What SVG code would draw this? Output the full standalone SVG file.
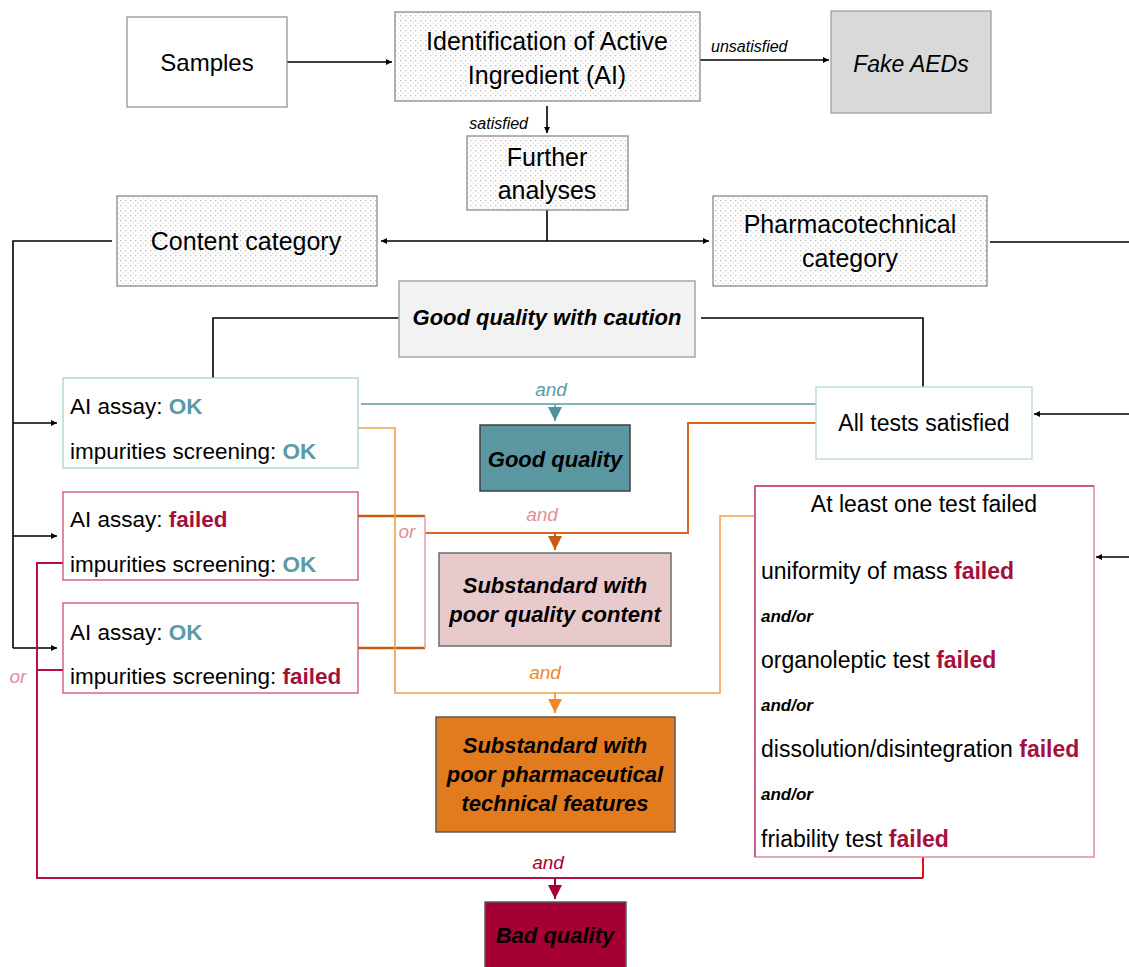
<svg xmlns="http://www.w3.org/2000/svg" width="1129" height="967" viewBox="0 0 1129 967">
<defs>
<pattern id="dots" width="5" height="5" patternUnits="userSpaceOnUse">
<rect width="5" height="5" fill="#ffffff"/>
<rect x="0" y="0" width="1.3" height="1.3" fill="#bdbdbd"/>
<rect x="2.5" y="2.5" width="1.3" height="1.3" fill="#dadada"/>
</pattern>
<marker id="ak" viewBox="0 0 10 10" refX="10" refY="5" markerWidth="7" markerHeight="6" markerUnits="userSpaceOnUse" orient="auto"><path d="M0,0 L10,5 L0,10 z" fill="#000"/></marker>
<marker id="at" viewBox="0 0 10 10" refX="10" refY="5" markerWidth="14" markerHeight="14" markerUnits="userSpaceOnUse" orient="auto"><path d="M0,0 L10,5 L0,10 z" fill="#4f929d"/></marker>
<marker id="ao" viewBox="0 0 10 10" refX="10" refY="5" markerWidth="14" markerHeight="14" markerUnits="userSpaceOnUse" orient="auto"><path d="M0,0 L10,5 L0,10 z" fill="#c55a11"/></marker>
<marker id="al" viewBox="0 0 10 10" refX="10" refY="5" markerWidth="14" markerHeight="14" markerUnits="userSpaceOnUse" orient="auto"><path d="M0,0 L10,5 L0,10 z" fill="#ed8a2a"/></marker>
<marker id="ac" viewBox="0 0 10 10" refX="10" refY="5" markerWidth="14" markerHeight="14" markerUnits="userSpaceOnUse" orient="auto"><path d="M0,0 L10,5 L0,10 z" fill="#a50034"/></marker>
</defs>
<style>
text{font-family:"Liberation Sans",Arial,sans-serif;fill:#000}
.t25{font-size:25px}
.t24{font-size:24px}
.t22{font-size:22.5px}
.t23{font-size:23px}
.bi{font-size:22px;font-weight:bold;font-style:italic}
.lab{font-size:19px;font-style:italic}
.small{font-size:16px;font-style:italic}
.ao{font-size:17px;font-weight:bold;font-style:italic}
.ok{fill:#5b9ba5;font-weight:bold}
.fail{fill:#a50f3c;font-weight:bold}
.dot{fill:url(#dots);stroke:#808080;stroke-width:1.2}
.blk{fill:none;stroke:#000;stroke-width:1.6}
.c{text-anchor:middle}
</style>
<rect width="1129" height="967" fill="#ffffff"/>

<g id="connectors">
<path class="blk" d="M287,62 H392" marker-end="url(#ak)"/>
<path class="blk" d="M700,60 H829" marker-end="url(#ak)"/>
<path class="blk" d="M547,106 V133" marker-end="url(#ak)"/>
<path class="blk" d="M547,210 V241"/>
<path class="blk" d="M547,241 H381" marker-end="url(#ak)"/>
<path class="blk" d="M547,241 H709" marker-end="url(#ak)"/>
<path class="blk" d="M112,241 H13 V648"/>
<path class="blk" d="M13,423 H57" marker-end="url(#ak)"/>
<path class="blk" d="M13,536 H57" marker-end="url(#ak)"/>
<path class="blk" d="M13,648 H57" marker-end="url(#ak)"/>
<path class="blk" d="M990,242 H1129"/>
<path class="blk" d="M1129,414 H1034" marker-end="url(#ak)"/>
<path class="blk" d="M1129,557 H1096" marker-end="url(#ak)"/>
<path class="blk" d="M399,318 H213 V378"/>
<path class="blk" d="M701,318 H923 V387"/>

<path d="M361,404 H816" fill="none" stroke="#5b9ba5" stroke-width="1.6"/>
<path d="M555,404 V421" fill="none" stroke="#5b9ba5" stroke-width="1.6" marker-end="url(#at)"/>

<path d="M816,423 H688 V533 H425" fill="none" stroke="#d2691e" stroke-width="2"/>
<path d="M555,533 V550" fill="none" stroke="#c55a11" stroke-width="2" marker-end="url(#ao)"/>
<path d="M358,516 H425 M358,648 H425" fill="none" stroke="#c55a11" stroke-width="2.4"/>
<path d="M425,516 V648" fill="none" stroke="#e6a3ad" stroke-width="1.6"/>

<path d="M358,428 H395 V693 H720 V516 H755" fill="none" stroke="#f0a04b" stroke-width="1.6"/>
<path d="M555,693 V713" fill="none" stroke="#ed8a2a" stroke-width="1.6" marker-end="url(#al)"/>

<path d="M63,563 H37 V878 H923" fill="none" stroke="#b5103f" stroke-width="2"/>
<path d="M63,670 H37" fill="none" stroke="#b5103f" stroke-width="2"/>
<path d="M923,878 V857" fill="none" stroke="#e8101a" stroke-width="2"/>
<path d="M555,878 V899" fill="none" stroke="#a50034" stroke-width="2" marker-end="url(#ac)"/>

<text class="small" x="711" y="52">unsatisfied</text>
<text class="small" x="528" y="129" text-anchor="end">satisfied</text>
<text class="lab c" x="551" y="396" style="fill:#5b9ba5">and</text>
<text class="lab c" x="542" y="521" style="fill:#dc8f99">and</text>
<text class="lab c" x="407" y="538" style="fill:#dc8f99">or</text>
<text class="lab c" x="545" y="679" style="fill:#ed8a2a">and</text>
<text class="lab c" x="548" y="869" style="fill:#a50034">and</text>
<text class="lab c" x="18" y="683" style="fill:#dc8f99">or</text>
</g>

<g id="samples">
<rect x="127" y="17" width="160" height="90" fill="#fff" stroke="#8c8c8c" stroke-width="1.2"/>
<text class="t24 c" x="207" y="71">Samples</text>
</g>

<g id="identification">
<rect class="dot" x="395" y="12" width="305" height="89"/>
<text class="t25 c" x="547" y="50">Identification of Active</text>
<text class="t25 c" x="547" y="84">Ingredient (AI)</text>
</g>

<g id="fake">
<rect x="831" y="11" width="160" height="102" fill="#d9d9d9" stroke="#9a9a9a" stroke-width="1.2"/>
<text class="c" x="911" y="72" style="font-size:23px;font-style:italic">Fake AEDs</text>
</g>

<g id="further">
<rect class="dot" x="467" y="136" width="161" height="74"/>
<text class="t25 c" x="547" y="166">Further</text>
<text class="t25 c" x="547" y="199">analyses</text>
</g>

<g id="content">
<rect class="dot" x="117" y="196" width="260" height="90"/>
<text class="t25 c" x="246" y="250">Content category</text>
</g>

<g id="pharmaco">
<rect class="dot" x="713" y="196" width="274" height="90"/>
<text class="t25 c" x="850" y="233">Pharmacotechnical</text>
<text class="t25 c" x="850" y="267">category</text>
</g>

<g id="caution">
<rect x="399" y="281" width="296" height="76" fill="#f2f2f2" stroke="#a6a6a6" stroke-width="1.5"/>
<text class="bi c" x="547" y="325">Good quality with caution</text>
</g>

<g id="box-ok-ok">
<rect x="63" y="378" width="295" height="90" fill="#fff" stroke="#a8d0d8" stroke-width="1.3"/>
<text class="t22" x="70" y="414">AI assay: <tspan class="ok">OK</tspan></text>
<text class="t22" x="70" y="459">impurities screening: <tspan class="ok">OK</tspan></text>
</g>

<g id="box-failed-ok">
<rect x="63" y="492" width="295" height="88" fill="#fff" stroke="#cf4c74" stroke-width="1.3"/>
<text class="t22" x="70" y="527">AI assay: <tspan class="fail">failed</tspan></text>
<text class="t22" x="70" y="572">impurities screening: <tspan class="ok">OK</tspan></text>
</g>

<g id="box-ok-failed">
<rect x="63" y="603" width="295" height="90" fill="#fff" stroke="#cf4c74" stroke-width="1.3"/>
<text class="t22" x="70" y="640">AI assay: <tspan class="ok">OK</tspan></text>
<text class="t22" x="70" y="684">impurities screening: <tspan class="fail">failed</tspan></text>
</g>

<g id="good">
<rect x="480" y="425" width="150" height="66" fill="#5a97a1" stroke="#3f3f3f" stroke-width="1.5"/>
<text class="bi c" x="555" y="467">Good quality</text>
</g>

<g id="sub-content">
<rect x="439" y="553" width="232" height="93" fill="#e8cacc" stroke="#6b6b6b" stroke-width="1.5"/>
<text class="bi c" x="555" y="593">Substandard with</text>
<text class="bi c" x="555" y="622">poor quality content</text>
</g>

<g id="sub-pharm">
<rect x="436" y="717" width="239" height="115" fill="#e27b1e" stroke="#595959" stroke-width="1.5"/>
<text class="bi c" x="555" y="753">Substandard with</text>
<text class="bi c" x="555" y="782">poor pharmaceutical</text>
<text class="bi c" x="555" y="811">technical features</text>
</g>

<g id="bad">
<rect x="485" y="902" width="141" height="70" fill="#a50034" stroke="#595959" stroke-width="1.5"/>
<text class="bi c" x="555" y="943">Bad quality</text>
</g>

<g id="all-satisfied">
<rect x="816" y="387" width="216" height="72" fill="#fff" stroke="#b8d8de" stroke-width="1.3"/>
<text class="t23 c" x="924" y="431">All tests satisfied</text>
</g>

<g id="one-failed">
<rect x="755" y="486" width="339" height="371" fill="#fff" stroke="#d77a98" stroke-width="1.3"/>
<path d="M755,857 V486 H1094" fill="none" stroke="#c0406a" stroke-width="1.3"/>
<text class="t23 c" x="924" y="512">At least one test failed</text>
<text class="t23" x="761" y="579">uniformity of mass <tspan class="fail">failed</tspan></text>
<text class="ao" x="761" y="622">and/or</text>
<text class="t23" x="761" y="668">organoleptic test <tspan class="fail">failed</tspan></text>
<text class="ao" x="761" y="711">and/or</text>
<text class="t23" x="761" y="757">dissolution/disintegration <tspan class="fail">failed</tspan></text>
<text class="ao" x="761" y="800">and/or</text>
<text class="t23" x="761" y="847">friability test <tspan class="fail">failed</tspan></text>
</g>
</svg>
